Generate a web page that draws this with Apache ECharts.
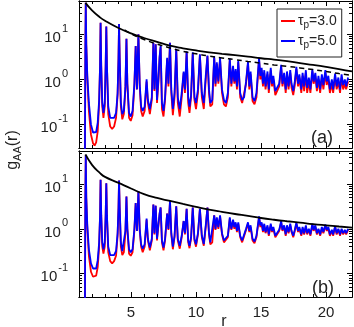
<!DOCTYPE html>
<html>
<head>
<meta charset="utf-8">
<script src="https://cdn.jsdelivr.net/npm/echarts@6/dist/echarts.min.js"></script>
<style>
  html, body { margin: 0; padding: 0; background: #fff; }
  #main { width: 354px; height: 327px; }
</style>
</head>
<body>
<div id="main"></div>
<script>
// tick positions
var xMajor = [5, 10, 15, 20];
var xMinor = [2, 3, 4, 6, 7, 8, 9, 11, 12, 13, 14, 16, 17, 18, 19, 21];
var yMajor = [0.1, 1, 10];
var yMinor = [0.04, 0.05, 0.06, 0.07, 0.08, 0.09, 0.2, 0.3, 0.4, 0.5, 0.6, 0.7, 0.8, 0.9,
              2, 3, 4, 5, 6, 7, 8, 9, 20, 30, 40, 50];

// panel (a): [r, g for tau_p=5.0 (blue), g for tau_p=3.0 (red)]
var rowsA = [
  [1.44, 0.001, 0.001], [1.49, 5, 5], [1.52, 50, 50], [1.56, 6, 6], [1.64, 1.2, 1.0],
  [1.76, 0.3, 0.2], [1.92, 0.1, 0.06], [2.08, 0.066, 0.038], [2.2, 0.06, 0.034], [2.32, 0.068, 0.04],
  [2.44, 0.11, 0.07], [2.55, 0.35, 0.3], [2.62, 2, 2], [2.66, 18, 18], [2.71, 2, 2],
  [2.79, 0.3, 0.25], [2.88, 0.18, 0.14], [2.98, 0.3, 0.25], [3.05, 2, 2], [3.1, 15, 15],
  [3.15, 2, 2], [3.25, 0.25, 0.17], [3.4, 0.14, 0.09], [3.55, 0.13, 0.08], [3.7, 0.14, 0.09],
  [3.85, 0.18, 0.14], [3.97, 0.5, 0.45], [4.04, 3, 3], [4.08, 17, 17], [4.13, 3, 3],
  [4.22, 0.3, 0.25], [4.33, 0.17, 0.13], [4.45, 0.2, 0.17], [4.57, 0.7, 0.6], [4.65, 8, 8],
  [4.72, 0.8, 0.8], [4.85, 0.18, 0.14], [4.98, 0.15, 0.12], [5.12, 0.2, 0.16], [5.26, 0.8, 0.7],
  [5.36, 5.5, 5.5], [5.46, 0.6, 0.6], [5.57, 10, 10], [5.67, 0.8, 0.7], [5.78, 0.25, 0.2],
  [5.9, 0.2, 0.15], [6.05, 0.25, 0.2], [6.2, 1.0, 0.9], [6.3, 0.35, 0.3], [6.45, 0.22, 0.17],
  [6.6, 0.4, 0.35], [6.72, 6.5, 6.5], [6.8, 0.6, 0.55], [6.9, 6.0, 6.0], [7.0, 0.35, 0.3],
  [7.1, 0.9, 0.8], [7.2, 3.2, 3.0], [7.28, 5.5, 5.2], [7.38, 0.3, 0.22], [7.5, 0.2, 0.15],
  [7.62, 0.4, 0.35], [7.78, 3.0, 2.8], [7.88, 0.8, 0.7], [8.0, 6.5, 6.5], [8.1, 0.6, 0.5],
  [8.22, 0.22, 0.16], [8.35, 0.5, 0.4], [8.48, 4.8, 4.6], [8.6, 0.4, 0.3], [8.75, 0.22, 0.15],
  [8.9, 0.5, 0.4], [9.05, 1.5, 1.4], [9.15, 0.6, 0.5], [9.28, 4.2, 4.0], [9.4, 0.4, 0.3],
  [9.5, 0.25, 0.18], [9.62, 0.45, 0.4], [9.75, 4, 3.8], [9.88, 0.4, 0.35], [10.0, 0.3, 0.22],
  [10.15, 0.6, 0.5], [10.3, 3.6, 3.5], [10.45, 0.5, 0.4], [10.6, 0.3, 0.22], [10.75, 1.2, 1.0],
  [10.88, 3.4, 3.3], [11.0, 0.6, 0.5], [11.1, 0.3, 0.25], [11.25, 0.35, 0.28], [11.4, 3.2, 3.0],
  [11.5, 0.8, 0.7], [11.6, 2.4, 2.2], [11.72, 0.9, 0.8], [11.85, 3.0, 2.8], [12.0, 0.6, 0.5],
  [12.15, 0.35, 0.28], [12.3, 0.3, 0.25], [12.45, 0.5, 0.4], [12.6, 2.9, 2.7], [12.72, 0.8, 0.7],
  [12.85, 2.0, 1.8], [12.95, 0.9, 0.8], [13.05, 1.7, 1.5], [13.15, 0.7, 0.6], [13.25, 2.6, 2.4],
  [13.4, 0.5, 0.4], [13.55, 0.35, 0.3], [13.7, 0.4, 0.33], [13.85, 0.9, 0.8], [14.0, 2.5, 2.3],
  [14.1, 0.7, 0.6], [14.2, 1.5, 1.3], [14.35, 0.4, 0.33], [14.5, 0.33, 0.28], [14.65, 0.5, 0.4],
  [14.85, 3.0, 2.8], [14.95, 1.2, 1.0], [15.05, 1.8, 1.6], [15.15, 0.8, 0.7], [15.25, 1.6, 1.4],
  [15.35, 0.7, 0.6], [15.5, 1.5, 1.3], [15.6, 0.6, 0.5], [15.75, 1.8, 1.6], [15.85, 0.8, 0.7],
  [15.95, 1.2, 1.0], [16.1, 0.55, 0.45], [16.25, 0.5, 0.42], [16.4, 0.8, 0.7], [16.55, 2.1, 1.9],
  [16.65, 0.8, 0.7], [16.78, 1.4, 1.2], [16.9, 0.6, 0.5], [17.0, 1.5, 1.3], [17.12, 0.7, 0.6],
  [17.25, 1.6, 1.4], [17.35, 0.8, 0.65], [17.48, 0.55, 0.45], [17.6, 0.9, 0.75], [17.72, 1.9, 1.7],
  [17.85, 0.8, 0.7], [17.95, 1.3, 1.1], [18.1, 0.6, 0.5], [18.2, 1.4, 1.2], [18.32, 0.7, 0.55],
  [18.45, 1.6, 1.4], [18.55, 0.65, 0.5], [18.68, 1.1, 0.9], [18.8, 0.6, 0.5], [18.95, 1.7, 1.5],
  [19.05, 0.9, 0.8], [19.18, 1.4, 1.2], [19.3, 0.65, 0.55], [19.42, 1.2, 1.0], [19.55, 0.6, 0.5],
  [19.68, 1.3, 1.1], [19.8, 0.75, 0.6], [19.95, 1.6, 1.4], [20.05, 0.9, 0.75], [20.18, 1.2, 1.0],
  [20.3, 0.6, 0.5], [20.45, 1.0, 0.8], [20.55, 0.6, 0.5], [20.7, 1.35, 1.15], [20.82, 0.7, 0.6],
  [20.95, 1.1, 0.9], [21.08, 0.6, 0.5], [21.2, 1.3, 1.1], [21.32, 0.75, 0.6], [21.45, 1.0, 0.8],
  [21.55, 0.7, 0.6], [21.7, 1.1, 0.9]
];

// panel (b): [r, blue, red]
var rowsB = [
  [1.44, 0.001, 0.001], [1.49, 5, 5], [1.52, 45, 45], [1.56, 5, 5], [1.64, 1.2, 1.0],
  [1.76, 0.35, 0.25], [1.92, 0.17, 0.11], [2.08, 0.13, 0.085], [2.2, 0.125, 0.08], [2.32, 0.13, 0.09],
  [2.44, 0.2, 0.14], [2.55, 0.5, 0.4], [2.62, 2, 2], [2.66, 12.5, 12.5], [2.71, 2, 2],
  [2.79, 0.5, 0.4], [2.88, 0.35, 0.28], [2.98, 0.5, 0.4], [3.05, 2, 2], [3.1, 10.5, 10.5],
  [3.15, 2, 2], [3.25, 0.4, 0.3], [3.4, 0.26, 0.19], [3.55, 0.25, 0.17], [3.7, 0.26, 0.19],
  [3.85, 0.32, 0.25], [3.97, 0.8, 0.7], [4.04, 3, 3], [4.08, 12, 12], [4.13, 3, 3],
  [4.22, 0.5, 0.4], [4.33, 0.32, 0.26], [4.45, 0.35, 0.3], [4.57, 0.9, 0.8], [4.65, 5.3, 5.3],
  [4.72, 1, 1], [4.85, 0.35, 0.28], [4.98, 0.3, 0.25], [5.12, 0.35, 0.3], [5.26, 1.0, 0.9],
  [5.36, 3.8, 3.8], [5.46, 0.9, 0.9], [5.57, 7, 7], [5.67, 1, 0.9], [5.78, 0.45, 0.4],
  [5.9, 0.36, 0.3], [6.05, 0.45, 0.4], [6.2, 1.7, 1.6], [6.3, 0.6, 0.55], [6.45, 0.38, 0.33],
  [6.6, 0.6, 0.55], [6.72, 3.5, 3.5], [6.8, 0.8, 0.75], [6.9, 3.3, 3.3], [7.0, 0.6, 0.55],
  [7.1, 1.2, 1.1], [7.2, 2.2, 2.2], [7.28, 3, 3], [7.38, 0.55, 0.5], [7.5, 0.38, 0.33],
  [7.62, 0.6, 0.55], [7.78, 2.2, 2.2], [7.88, 1.0, 0.95], [8.0, 4.2, 4.2], [8.1, 0.8, 0.75],
  [8.22, 0.4, 0.35], [8.35, 0.7, 0.65], [8.48, 3.2, 3.2], [8.6, 0.6, 0.55], [8.75, 0.42, 0.36],
  [8.9, 0.7, 0.65], [9.05, 1.5, 1.5], [9.15, 0.8, 0.75], [9.28, 2.8, 2.8], [9.4, 0.55, 0.5],
  [9.5, 0.42, 0.37], [9.62, 0.65, 0.6], [9.75, 3.0, 3.0], [9.88, 0.6, 0.55], [10.0, 0.45, 0.4],
  [10.15, 0.8, 0.75], [10.3, 2.8, 2.8], [10.45, 0.7, 0.65], [10.6, 0.46, 0.42], [10.75, 1.2, 1.1],
  [10.88, 3.0, 3.0], [11.0, 0.8, 0.75], [11.1, 0.5, 0.45], [11.25, 0.55, 0.5], [11.4, 2.0, 2.0],
  [11.5, 1.0, 0.95], [11.6, 1.8, 1.7], [11.72, 1.1, 1.0], [11.85, 2.0, 1.9], [12.0, 0.8, 0.75],
  [12.15, 0.55, 0.5], [12.3, 0.5, 0.46], [12.45, 0.7, 0.65], [12.6, 1.8, 1.7], [12.72, 1.0, 0.95],
  [12.85, 1.6, 1.5], [12.95, 1.1, 1.0], [13.05, 1.4, 1.3], [13.15, 0.9, 0.85], [13.25, 1.4, 1.3],
  [13.4, 0.7, 0.65], [13.55, 0.55, 0.5], [13.7, 0.6, 0.55], [13.85, 1.0, 0.95], [14.0, 1.4, 1.3],
  [14.1, 0.9, 0.85], [14.2, 1.2, 1.1], [14.35, 0.6, 0.55], [14.5, 0.52, 0.48], [14.65, 0.7, 0.65],
  [14.85, 1.9, 1.8], [14.95, 1.2, 1.1], [15.05, 1.4, 1.3], [15.15, 0.9, 0.85], [15.25, 1.3, 1.2],
  [15.35, 0.85, 0.8], [15.5, 1.2, 1.1], [15.6, 0.75, 0.7], [15.75, 1.3, 1.2], [15.85, 0.9, 0.85],
  [15.95, 1.1, 1.0], [16.1, 0.7, 0.65], [16.25, 0.68, 0.63], [16.4, 0.95, 0.9], [16.55, 1.5, 1.4],
  [16.65, 0.95, 0.9], [16.78, 1.2, 1.1], [16.9, 0.75, 0.7], [17.0, 1.2, 1.1], [17.12, 0.85, 0.8],
  [17.25, 1.3, 1.2], [17.35, 0.9, 0.85], [17.48, 0.7, 0.65], [17.6, 0.95, 0.9], [17.72, 1.4, 1.3],
  [17.85, 0.9, 0.85], [17.95, 1.1, 1.0], [18.1, 0.75, 0.7], [18.2, 1.1, 1.0], [18.32, 0.8, 0.75],
  [18.45, 1.2, 1.1], [18.55, 0.8, 0.75], [18.68, 1.0, 0.95], [18.8, 0.75, 0.7], [18.95, 1.3, 1.2],
  [19.05, 0.95, 0.9], [19.18, 1.2, 1.1], [19.3, 0.8, 0.75], [19.42, 1.0, 0.95], [19.55, 0.75, 0.7],
  [19.68, 1.1, 1.0], [19.8, 0.85, 0.8], [19.95, 1.25, 1.2], [20.05, 0.95, 0.9], [20.18, 1.1, 1.0],
  [20.3, 0.75, 0.7], [20.45, 0.95, 0.9], [20.55, 0.75, 0.7], [20.7, 1.15, 1.1], [20.82, 0.8, 0.75],
  [20.95, 1.0, 0.95], [21.08, 0.75, 0.7], [21.2, 1.0, 0.95], [21.32, 0.8, 0.75], [21.45, 0.95, 0.9],
  [21.55, 0.8, 0.75], [21.7, 1.0, 0.95]
];

// black envelopes [r, g]
var envSolidA = [[1.5, 50], [2, 34], [2.6, 24], [3, 20], [4, 14], [5, 10.5], [6, 8.3], [7, 6.8],
  [8, 5.6], [9, 4.9], [10, 4.4], [11, 4.0], [12, 3.7], [13, 3.45], [14, 3.2], [15, 2.95],
  [16, 2.75], [17, 2.55], [18, 2.3], [19, 2.1], [20, 1.9], [21, 1.7], [22, 1.5]];
var envDashA = [[4.5, 12.5], [5, 10.3], [6, 7.7], [7, 6.1], [8, 5.0], [9, 4.2], [10, 3.7],
  [11, 3.3], [12, 3.0], [13, 2.75], [14, 2.5], [15, 2.3], [16, 2.1], [17, 1.95], [18, 1.8],
  [19, 1.65], [20, 1.5], [21, 1.35], [22, 1.23]];
var envSolidB = [[1.5, 46], [2, 27], [2.6, 17.8], [3, 14.5], [4, 10.8], [5, 8.0], [6, 6.0],
  [7, 4.9], [8, 4.2], [9, 3.6], [10, 3.1], [11, 2.7], [12, 2.4], [13, 2.15], [14, 1.95],
  [15, 1.75], [16, 1.6], [17, 1.48], [18, 1.38], [19, 1.28], [20, 1.2], [21, 1.13], [22, 1.07]];

var names = ['τp=3.0', 'τp=5.0'];

var FONT = 'Liberation Sans, Arial, sans-serif';
var yMin = 0.03, yMax = 55;

function xAx(g, pos, ticks, len, labels) {
    return {
        type: 'value', gridIndex: g, position: pos, min: 1, max: 22,
        axisLine: { show: true, lineStyle: { color: '#000', width: 1 } },
        axisTick: { show: true, inside: true, length: len, customValues: ticks, lineStyle: { color: '#000' } },
        axisLabel: labels ? {
            show: true, customValues: xMajor, margin: 8, color: '#222',
            fontFamily: FONT, fontSize: 15
        } : { show: false },
        splitLine: { show: false }
    };
}

function yAx(g, pos, ticks, len, labels) {
    return {
        type: 'log', logBase: 10, gridIndex: g, position: pos, min: yMin, max: yMax,
        axisLine: { show: true, lineStyle: { color: '#000', width: 1 } },
        axisTick: { show: true, inside: true, length: len, customValues: ticks, lineStyle: { color: '#000' } },
        axisLabel: labels ? {
            show: true, customValues: yMajor, margin: 11, color: '#222',
            formatter: function (v) {
                var e = Math.round(Math.log10(v));
                return '{b|10}{s|' + e + '}';
            },
            rich: {
                b: { fontFamily: FONT, fontSize: 15, color: '#222', lineHeight: 22, verticalAlign: 'bottom' },
                s: { fontFamily: FONT, fontSize: 11, color: '#222', verticalAlign: 'top', padding: [0, 0, 0, 1] }
            }
        } : { show: false },
        splitLine: { show: false }
    };
}

var xAxes = [], yAxes = [];
[0, 1].forEach(function (g) {
    xAxes.push(xAx(g, 'bottom', xMajor, 5, g === 1));
    xAxes.push(xAx(g, 'bottom', xMinor, 3, false));
    xAxes.push(xAx(g, 'top', xMajor, 5, false));
    xAxes.push(xAx(g, 'top', xMinor, 3, false));
    yAxes.push(yAx(g, 'left', yMajor, 5, true));
    yAxes.push(yAx(g, 'left', yMinor, 3, false));
    yAxes.push(yAx(g, 'right', yMajor, 5, false));
    yAxes.push(yAx(g, 'right', yMinor, 3, false));
});

function curve(name, rows, col, color, g) {
    return {
        name: name, type: 'line', xAxisIndex: g * 4, yAxisIndex: g * 4,
        data: rows.map(function (d) { return [d[0], d[col]]; }),
        showSymbol: false, symbol: 'none', clip: true, silent: true,
        lineStyle: { color: color, width: 1.8 }, itemStyle: { color: color }
    };
}

function env(data, g, dashed) {
    return {
        type: 'line', xAxisIndex: g * 4, yAxisIndex: g * 4, data: data,
        showSymbol: false, symbol: 'none', clip: true, silent: true, smooth: true,
        lineStyle: { color: '#000', width: dashed ? 1.5 : 1.8, type: dashed ? [5, 4] : 'solid' }
    };
}

var myChart = echarts.init(document.getElementById('main'), null, { renderer: 'canvas' });

var option = {
    animation: false,
    backgroundColor: '#fff',
    grid: [
        { left: 79, right: 2, top: 1, height: 147, outerBoundsMode: 'none' },
        { left: 79, right: 2, top: 151, height: 146, outerBoundsMode: 'none' }
    ],
    xAxis: xAxes,
    yAxis: yAxes,
    legend: {
        data: names,
        orient: 'vertical',
        left: 277, top: 9,
        padding: [5, 5, 7, 4],
        itemGap: 4,
        itemWidth: 14, itemHeight: 2,
        icon: 'rect',
        borderColor: '#222', borderWidth: 1,
        backgroundColor: '#fff',
        formatter: function (n) {
            return '{a|τ}{p|p}{a|' + n.slice(2) + '}';
        },
        textStyle: {
            padding: [0, 0, 0, -2],
            rich: {
                a: { fontFamily: FONT, fontSize: 14, color: '#222', lineHeight: 18 },
                p: { fontFamily: FONT, fontSize: 10, color: '#222', verticalAlign: 'bottom' }
            }
        }
    },
    graphic: [
        { type: 'text', left: 311, top: 129, style: { text: '(a)', fontFamily: FONT, fontSize: 18, fill: '#222' } },
        { type: 'text', left: 312, top: 279, style: { text: '(b)', fontFamily: FONT, fontSize: 18, fill: '#222' } },
        {
            type: 'text', x: 13, y: 150, rotation: Math.PI / 2,
            style: {
                text: '{g|g}{s|AA}{g|(r)}', align: 'center', verticalAlign: 'middle',
                rich: {
                    g: { fontFamily: FONT, fontSize: 16, fill: '#222', lineHeight: 20 },
                    s: { fontFamily: FONT, fontSize: 11, fill: '#222', verticalAlign: 'bottom' }
                }
            }
        },
        { type: 'text', x: 224, y: 322, style: { text: 'r', fontFamily: FONT, fontSize: 16, fill: '#222', align: 'center', verticalAlign: 'middle' } }
    ],
    series: [
        curve(names[0], rowsA, 2, '#ff0000', 0),
        curve(names[1], rowsA, 1, '#0000ff', 0),
        env(envDashA, 0, true),
        env(envSolidA, 0, false),
        curve(names[0], rowsB, 2, '#ff0000', 1),
        curve(names[1], rowsB, 1, '#0000ff', 1),
        env(envSolidB, 1, false)
    ]
};

myChart.setOption(option);
</script>
</body>
</html>
